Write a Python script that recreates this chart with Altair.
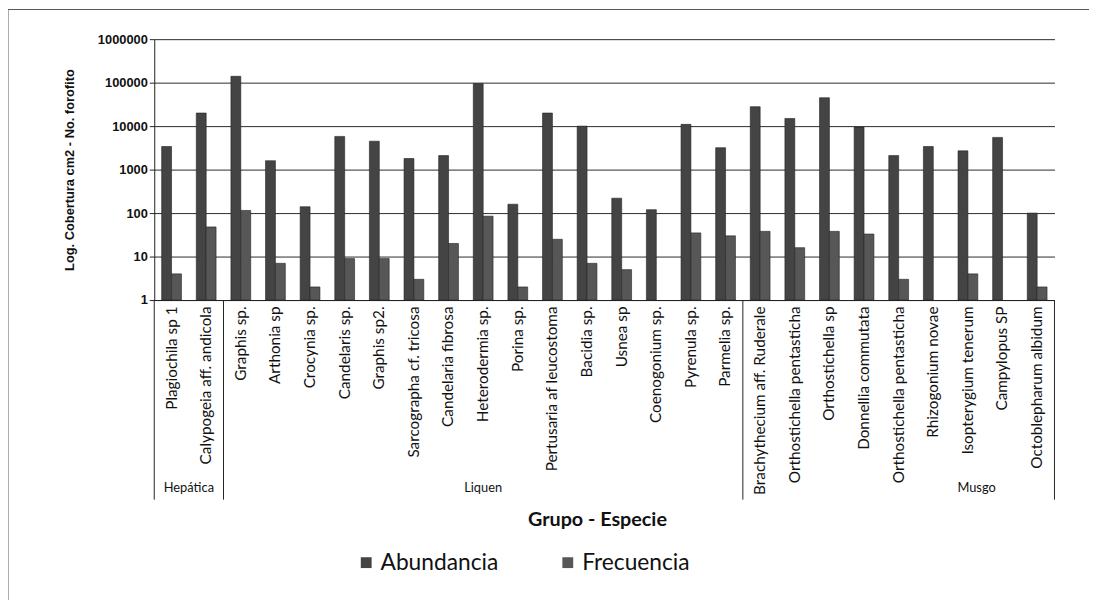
import altair as alt
import pandas as pd

species = [
    "Plagiochila sp 1", "Calypogeia aff. andicola",
    "Graphis sp.", "Arthonia sp", "Crocynia sp.", "Candelaris sp.", "Graphis sp2.",
    "Sarcographa cf. tricosa", "Candelaria fibrosa", "Heterodermia sp.", "Porina sp.",
    "Pertusaria  af leucostoma", "Bacidia sp.", "Usnea sp", "Coenogonium sp.",
    "Pyrenula sp.", "Parmelia sp.",
    "Brachythecium aff. Ruderale", "Orthostichella pentasticha", "Orthostichella sp",
    "Donnellia commutata", "Orthostichella pentasticha ", "Rhizogonium novae",
    "Isopterygium tenerum", "Campylopus SP", "Octoblepharum albidum",
]
groups = ["Hepática"] * 2 + ["Liquen"] * 15 + ["Musgo"] * 9
abundancia = [3400, 20000, 140000, 1600, 140, 5800, 4500, 1800, 2100, 95000, 160,
              20000, 10000, 220, 120, 11000, 3200,
              28000, 15000, 45000, 9500, 2100, 3400, 2700, 5500, 100]
frecuencia = [4, 48, 115, 7, 2, 9, 9, 3, 20, 85, 2,
              25, 7, 5, None, 35, 30,
              38, 16, 38, 33, 3, None, 4, None, 2]
series_names = ["Abundancia", "Frecuencia"]
series_colors = ["#444444", "#575757"]
y_ticks = [1, 10, 100, 1000, 10000, 100000, 1000000]

group_names = ["Hepática", "Liquen", "Musgo"]
group_anchor = ["Plagiochila sp 1", "Heterodermia sp.", "Isopterygium tenerum"]
group_band = [1.0, 0.5, 0.75]
sep_left = ["Plagiochila sp 1", "Graphis sp.", "Brachythecium aff. Ruderale"]
sep_right = ["Octoblepharum albidum"]

rows = []
for s, g, a, f in zip(species, groups, abundancia, frecuencia):
    rows.append({"species": s, "grupo": g, "series": "Abundancia", "value": a})
    if f is not None:
        rows.append({"species": s, "grupo": g, "series": "Frecuencia", "value": f})
df = pd.DataFrame(rows)

W, H = 911, 264
font_cal = "Lato"

xscale = alt.Scale(domain=species, paddingInner=0, paddingOuter=0)

bars = alt.Chart(df).mark_bar(stroke="#222", strokeWidth=0.6).encode(
    x=alt.X("species:N", sort=species, scale=xscale,
            axis=alt.Axis(title="Grupo - Especie", labelAngle=270, labelFont=font_cal,
                          labelFontSize=15.5, labelColor="#111", labelPadding=6,
                          labelLimit=400, ticks=False, domainColor="#222",
                          titleFont=font_cal, titleFontSize=20, titleFontWeight="bold",
                          titleColor="#111", titleX=448, titleY=222,
                          titleBaseline="middle")),
    xOffset=alt.XOffset("series:N", sort=series_names,
                        scale=alt.Scale(paddingInner=0, paddingOuter=0.75)),
    y=alt.Y("value:Q",
            scale=alt.Scale(type="log", domain=[1, 1000000]),
            axis=alt.Axis(title="Log. Cobertura cm2 - No. forofito", values=y_ticks,
                          format="d", labelFont="Liberation Sans", labelFontSize=13,
                          labelFontWeight="bold", labelColor="#111",
                          gridColor="#2a2a2a", gridWidth=1, gridOpacity=1,
                          domainColor="#222", tickColor="#222", tickSize=5,
                          titleFont="Liberation Sans", titleFontSize=13,
                          titleFontWeight="bold", titleColor="#111",
                          titleX=-86, titleY=132, titleBaseline="middle")),
    y2=alt.Y2(datum=1),
    color=alt.Color("series:N", sort=series_names,
                    scale=alt.Scale(domain=series_names, range=series_colors),
                    legend=alt.Legend(title=None, orient="none", legendX=203, legendY=518,
                                      direction="horizontal", symbolType="square",
                                      symbolSize=120, symbolStrokeWidth=0,
                                      labelFont=font_cal, labelFontSize=23,
                                      labelColor="#111", labelOffset=3,
                                      columnPadding=58)),
)

layers = [bars]

for name, anchor, band in zip(group_names, group_anchor, group_band):
    gdf = pd.DataFrame({"species": [anchor], "label": [name]})
    layers.append(alt.Chart(gdf).mark_text(font=font_cal, fontSize=13, color="#111",
                                            baseline="middle").encode(
        x=alt.X("species:N", sort=species, scale=xscale, bandPosition=band),
        y=alt.value(454),
        text="label:N"))

sl = pd.DataFrame({"species": sep_left})
layers.append(alt.Chart(sl).mark_rule(color="#222", strokeWidth=1).encode(
    x=alt.X("species:N", sort=species, scale=xscale, bandPosition=0),
    y=alt.value(264), y2=alt.value(466)))
sr = pd.DataFrame({"species": sep_right})
layers.append(alt.Chart(sr).mark_rule(color="#222", strokeWidth=1).encode(
    x=alt.X("species:N", sort=species, scale=xscale, bandPosition=1),
    y=alt.value(264), y2=alt.value(466)))

# outer frame (decorative)
layers.append(alt.Chart(pd.DataFrame({"a": [0]})).mark_rule(color="#555", strokeWidth=1).encode(
    x=alt.value(-148), y=alt.value(-30), y2=alt.value(570)))
layers.append(alt.Chart(pd.DataFrame({"a": [0]})).mark_rule(color="#555", strokeWidth=1).encode(
    x=alt.value(-148), x2=alt.value(946), y=alt.value(-30)))

chart = alt.layer(*layers).properties(
    width=W, height=H,
    autosize=alt.AutoSizeParams(type="none"),
    padding={"left": 148, "top": 28, "right": 40, "bottom": 300},
    background="white",
).configure_view(stroke=None)

chart.save("out.html", embed_options={"renderer": "svg", "actions": False})
